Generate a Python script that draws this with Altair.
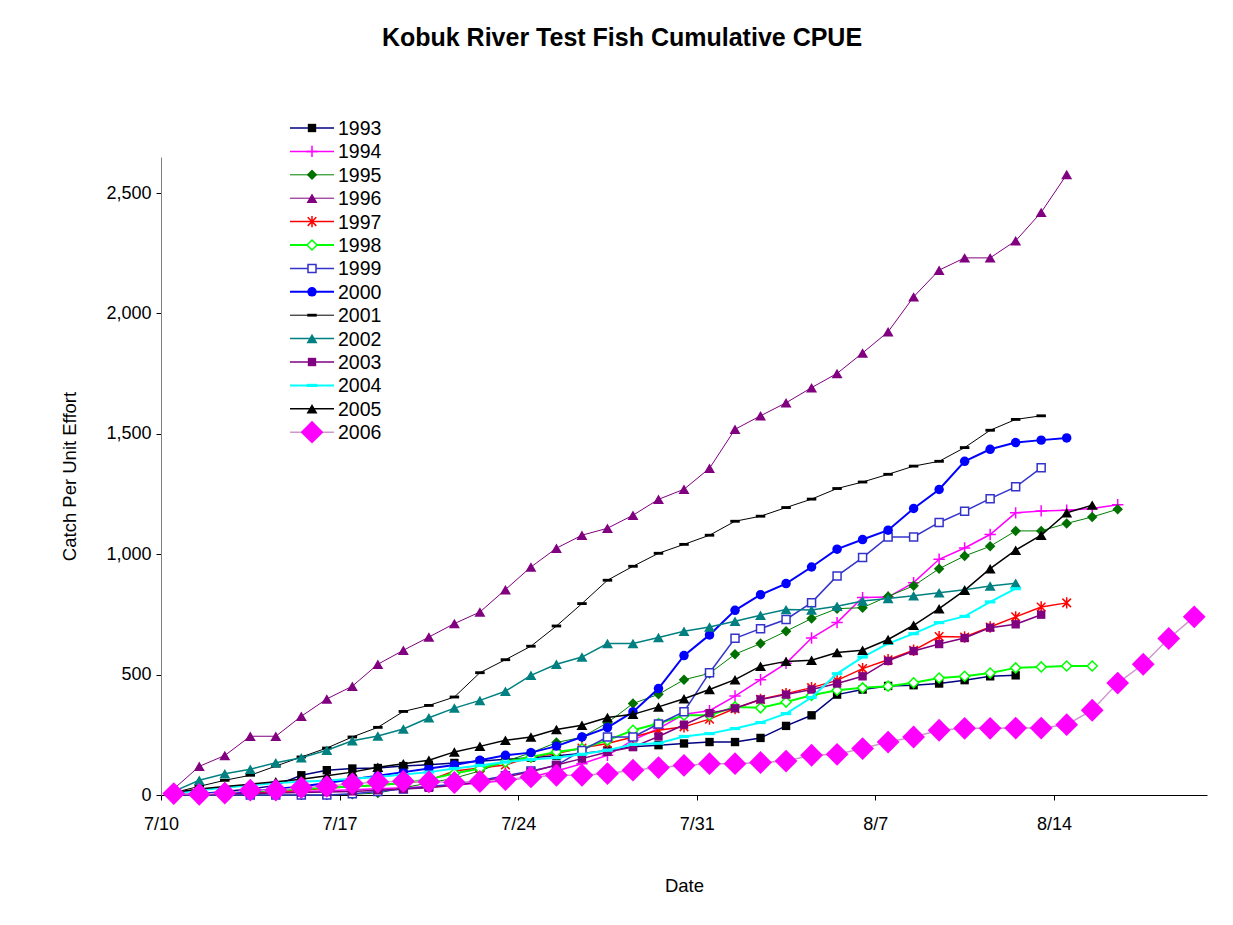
import altair as alt
import pandas as pd

# ---- data (day 0 = 7/10; each value is cumulative CPUE) ----
years = ["1993", "1994", "1995", "1996", "1997", "1998", "1999",
         "2000", "2001", "2002", "2003", "2004", "2005", "2006"]

cpue_1993 = [0, 5, 15, 25, 40, 82, 103, 110, 112, 120, 126, 133, 140, 148, 155, 163, 172, 185,
             200, 207, 214, 220, 220, 237, 287, 331, 417, 438, 453, 456, 463, 477, 493, 497]
cpue_1994 = [0, 3, 6, 9, 12, 15, 18, 22, 26, 30, 35, 40, 50, 60, 75, 100, 130, 165, 228, 276,
             335, 350, 411, 479, 547, 652, 716, 820, 822, 882, 979, 1026, 1082, 1172, 1180,
             1183, 1190, 1206]
cpue_1995 = [0, 0, 0, 0, 0, 0, 0, 3, 8, 30, 50, 70, 100, 140, 175, 218, 240, 300, 380, 418,
             479, 505, 585, 629, 680, 733, 774, 778, 825, 869, 940, 993, 1033, 1097, 1097,
             1128, 1155, 1187]
cpue_1996 = [25, 119, 164, 244, 244, 327, 399, 452, 543, 601, 656, 712, 760, 853, 947, 1025,
             1079, 1108, 1162, 1228, 1270, 1357, 1519, 1575, 1629, 1692, 1751, 1836, 1924,
             2069, 2180, 2231, 2231, 2302, 2420, 2577]
cpue_1997 = [0, 3, 6, 10, 15, 20, 28, 35, 42, 50, 60, 100, 112, 125, 158, 172, 195, 214, 241,
             269, 283, 315, 359, 397, 421, 446, 476, 525, 562, 601, 658, 656, 698, 740, 781, 798]
cpue_1998 = [0, 5, 10, 15, 20, 25, 30, 35, 40, 50, 65, 89, 110, 137, 158, 179, 193, 227, 269,
             297, 331, 331, 366, 362, 386, 414, 435, 445, 452, 466, 486, 493, 507, 528, 532,
             536, 536]
cpue_1999 = [0, 0, 0, 0, 0, 0, 0, 5, 15, 25, 35, 45, 60, 80, 100, 123, 185, 241, 241, 295,
             346, 508, 651, 691, 729, 799, 910, 986, 1072, 1072, 1132, 1179, 1231, 1280, 1359]
cpue_2000 = [0, 5, 10, 15, 25, 35, 50, 65, 80, 95, 110, 125, 144, 165, 176, 203, 241, 280,
             345, 442, 579, 665, 767, 832, 878, 947, 1021, 1061, 1100, 1190, 1269, 1386, 1436,
             1464, 1474, 1483]
cpue_2001 = [10, 36, 61, 82, 120, 158, 195, 241, 281, 347, 372, 407, 508, 562, 618, 702, 795,
             892, 950, 1004, 1041, 1079, 1137, 1158, 1194, 1229, 1273, 1300, 1332, 1366, 1386,
             1443, 1515, 1560, 1575]
cpue_2002 = [15, 61, 88, 107, 134, 155, 186, 225, 245, 274, 321, 361, 393, 431, 497, 543, 573,
             629, 629, 654, 680, 698, 722, 747, 770, 768, 784, 806, 816, 828, 840, 853, 868, 880]
cpue_2003 = [0, 2, 4, 6, 8, 10, 12, 15, 20, 25, 30, 40, 55, 75, 96, 125, 151, 179, 199, 243,
             292, 340, 360, 397, 417, 438, 463, 493, 557, 598, 627, 652, 695, 709, 749]
cpue_2004 = [5, 20, 30, 40, 50, 55, 60, 68, 75, 85, 95, 110, 123, 137, 147, 155, 169, 186, 210,
             215, 243, 255, 276, 301, 338, 405, 504, 573, 629, 670, 716, 742, 802, 857]
cpue_2005 = [10, 25, 35, 45, 55, 65, 80, 95, 115, 130, 144, 179, 202, 227, 241, 272, 290, 322,
             335, 366, 400, 438, 479, 535, 555, 560, 592, 601, 646, 705, 774, 850, 940, 1017,
             1079, 1172, 1204]
cpue_2006 = [6, 3, 8, 20, 20, 31, 36, 47, 54, 57, 55, 52, 56, 64, 75, 82, 82, 89, 103, 114,
             123, 130, 130, 135, 141, 165, 169, 193, 220, 241, 269, 277, 277, 278, 278, 292,
             352, 465, 543, 650, 740]

series_values = [cpue_1993, cpue_1994, cpue_1995, cpue_1996, cpue_1997, cpue_1998, cpue_1999,
                 cpue_2000, cpue_2001, cpue_2002, cpue_2003, cpue_2004, cpue_2005, cpue_2006]

date_tick_days = [0, 7, 14, 21, 28, 35]
y_ticks = [0, 500, 1000, 1500, 2000, 2500]

# ---- styles ----
line_colors = ["#000080", "#FF00FF", "#008000", "#800080", "#FF0000", "#00FF00", "#3333CC",
               "#0000FF", "#000000", "#008080", "#800080", "#00FFFF", "#000000", "#CC99CC"]
line_widths = [1.5, 1.5, 1, 1, 1.5, 2, 1.5, 2, 1, 1.5, 1.5, 2, 1.5, 1.5]
PLUS = "M-1,0H1M0,-1V1"
ASTER = "M0,-1V1M-0.75,-0.75L0.75,0.75M-0.75,0.75L0.75,-0.75"
DASH = "M-1,-0.3L1,-0.3L1,0.3L-1,0.3Z"
markers = [
    dict(shape="square", size=70, filled=True, color="#000000"),
    dict(shape=PLUS, size=130, filled=False, color="#FF00FF", strokeWidth=1.5),
    dict(shape="diamond", size=110, filled=True, color="#007000"),
    dict(shape="triangle-up", size=120, filled=True, color="#800080"),
    dict(shape=ASTER, size=130, filled=False, color="#FF0000", strokeWidth=1.5),
    dict(shape="diamond", size=100, filled=False, color="#00FF00", fill="#FFFFFF", strokeWidth=1.5),
    dict(shape="square", size=64, filled=False, color="#3333CC", fill="#FFFFFF", strokeWidth=1.5),
    dict(shape="circle", size=90, filled=True, color="#0000FF"),
    dict(shape=DASH, size=90, filled=True, color="#000000"),
    dict(shape="triangle-up", size=120, filled=True, color="#008080"),
    dict(shape="square", size=70, filled=True, color="#800080"),
    dict(shape=DASH, size=110, filled=True, color="#00FFFF"),
    dict(shape="triangle-up", size=120, filled=True, color="#000000"),
    dict(shape="diamond", size=520, filled=True, color="#FF00FF"),
]

rows = []
for yr, vals in zip(years, series_values):
    for d, v in enumerate(vals):
        rows.append({"year": yr, "day": d, "cpue": v})
df = pd.DataFrame(rows)

FONT = "Liberation Sans"
W, H = 1046, 638

x_enc = alt.X("xpos:Q",
              scale=alt.Scale(domain=[0, 41], nice=False, zero=False),
              axis=alt.Axis(values=date_tick_days,
                            labelExpr="timeFormat(datetime(2006, 6, 10 + datum.value), '%-m/%-d')",
                            title="Date", grid=False, tickSize=5, labelPadding=15,
                            titlePadding=43, labelFontSize=18, titleFontSize=18.5,
                            titleFontWeight="normal", labelFont=FONT, titleFont=FONT,
                            labelColor="#000", titleColor="#000", domainColor="#000",
                            tickColor="#000", labelFlush=False))
y_enc = alt.Y("cpue:Q",
              scale=alt.Scale(domain=[0, 2650], nice=False),
              axis=alt.Axis(values=y_ticks, format=",.0f", title="Catch Per Unit Effort",
                            grid=False, tickSize=5, labelPadding=5, titlePadding=26,
                            labelFontSize=18, titleFontSize=18.5, titleFontWeight="normal",
                            labelFont=FONT, titleFont=FONT, labelColor="#000",
                            titleColor="#000", domainColor="#808080", tickColor="#000"))

base = alt.Chart(df).transform_calculate(xpos="datum.day + 0.5")


def point_kwargs(m):
    kw = dict(shape=m["shape"], size=m["size"], filled=m["filled"], opacity=1)
    if m["filled"]:
        kw.update(color=m["color"])
    else:
        kw.update(stroke=m["color"], strokeWidth=m.get("strokeWidth", 1.5),
                  fill=m.get("fill", "transparent"))
    return kw


layers = []
for i, yr in enumerate(years):
    sub = base.transform_filter(alt.datum.year == yr)
    enc = dict(x=x_enc, y=y_enc) if i == 0 else dict(x="xpos:Q", y="cpue:Q")
    layers.append(sub.mark_line(color=line_colors[i], strokeWidth=line_widths[i]).encode(**enc))
    layers.append(sub.mark_point(**point_kwargs(markers[i])).encode(x="xpos:Q", y="cpue:Q"))

# ---- legend (manual, Excel style: line with marker in middle) ----
leg_df = pd.DataFrame({"year": years})
leg_top, leg_step = -29, 23.4
for i, yr in enumerate(years):
    ypix = leg_top + i * leg_step
    lsub = alt.Chart(leg_df).transform_filter(alt.datum.year == yr)
    layers.append(lsub.mark_rule(color=line_colors[i], strokeWidth=line_widths[i]).encode(
        x=alt.value(129), x2=alt.value(173), y=alt.value(ypix)))
    layers.append(lsub.mark_point(**point_kwargs(markers[i])).encode(
        x=alt.value(151), y=alt.value(ypix)))
    layers.append(lsub.mark_text(align="left", baseline="middle", fontSize=19.5, font=FONT,
                                 color="#000").encode(
        x=alt.value(177), y=alt.value(ypix + 1), text="year:N"))

title_df = pd.DataFrame({"t": ["Kobuk River Test Fish Cumulative CPUE"]})
layers.append(alt.Chart(title_df).mark_text(fontSize=25, fontWeight="bold", font=FONT,
                                            color="#000", align="center", baseline="middle")
              .encode(x=alt.value(461), y=alt.value(-119), text="t:N"))

chart = alt.layer(*layers).properties(
    width=W, height=H,
    background="#FFFFFF",
    autosize=alt.AutoSizeParams(type="none"),
    padding={"left": 153, "top": 149, "right": 10, "bottom": 122},
).configure_view(strokeWidth=0, stroke="transparent")

chart.save("out.html", embed_options={"renderer": "svg", "actions": False})
